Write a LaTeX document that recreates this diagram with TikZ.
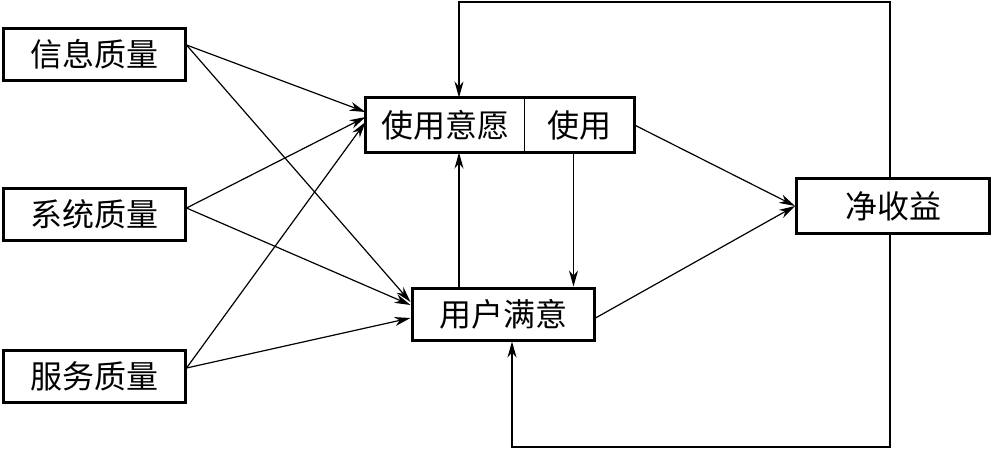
\documentclass[tikz,border=0pt]{standalone}
\usepackage{fontspec}
\newfontfamily\cjk{Noto Sans CJK SC}
\usetikzlibrary{arrows.meta,positioning}

\begin{document}
\begin{tikzpicture}[x=1pt,y=-1pt,
  node distance=0pt,
  box/.style={draw,line width=3pt,minimum height=52pt,inner sep=0pt,
    font=\cjk\fontsize{32}{36}\selectfont},
  qual/.style={box,minimum width=182pt},
  arr/.style={-{Stealth[length=16pt,width=9pt,inset=5pt]},line width=1.2pt}
]
\useasboundingbox (0,0) rectangle (992,450);
\node[qual] (info) at (94,54) {信息质量};
\node[qual] (sys) at (94,214) {系统质量};
\node[qual] (serv) at (94,376) {服务质量};
\node[box,draw=none,minimum width=156pt] (intent) at (445,125) {使用意愿};
\node[box,draw=none,minimum width=107pt,right=of intent] (use) {使用};
\draw[line width=3pt] (intent.north west) rectangle (use.south east);
\draw[line width=1pt] (intent.north east) -- (intent.south east);
\node[qual] (sat) at (503,314) {用户满意};
\node[box,minimum width=193pt,minimum height=55pt] (net) at (893,206) {净收益};
% quality -> intention / satisfaction
\draw[arr] ([yshift=9pt]info.east) -- ([yshift=13pt]intent.west);
\draw[arr] ([yshift=9pt]info.east) -- ([yshift=12pt]sat.west);
\draw[arr] ([yshift=6pt]sys.east) -- ([yshift=8pt]intent.west);
\draw[arr] ([yshift=6pt]sys.east) -- ([yshift=9pt]sat.west);
\draw[arr] ([yshift=8pt]serv.east) -- ([yshift=3pt]intent.west);
\draw[arr] ([yshift=8pt]serv.east) -- ([yshift=-4pt]sat.west);
% between intention, use and satisfaction
\draw[arr] ([xshift=-44pt]sat.north) -- ([xshift=-44pt]sat.north |- intent.south);
\draw[arr] ([xshift=-6pt]use.south) -- ([xshift=-6pt]use.south |- sat.north);
\draw[arr] (use.east) -- (net.west);
\draw[arr] ([yshift=-4pt]sat.east) -- (net.west);
% feedback loops
\coordinate (topL) at (459,2);
\coordinate (botL) at (512,447);
\draw[arr] ([xshift=-3pt]net.north) |- (topL) -- (topL |- intent.north);
\draw[arr] ([xshift=-3pt]net.south) |- (botL) -- (botL |- sat.south);
\end{tikzpicture}
\end{document}
